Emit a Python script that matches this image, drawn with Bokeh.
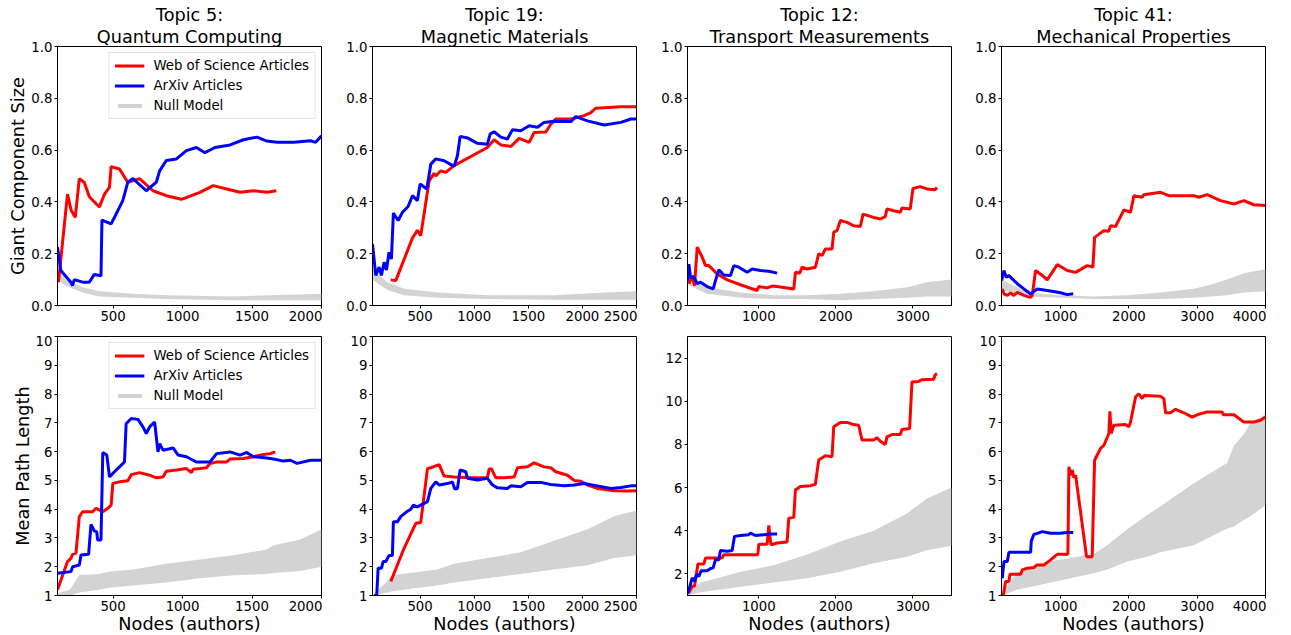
from bokeh.plotting import figure
from bokeh.layouts import column, row
from bokeh.models import Range1d, FixedTicker, PrintfTickFormatter, Legend, LegendItem, Title
from bokeh.embed import file_html
from bokeh.resources import INLINE

# ---------------- DATA ----------------
title_line1 = ["Topic 5:", "Topic 19:", "Topic 12:", "Topic 41:"]
title_line2 = ["Quantum Computing", "Magnetic Materials", "Transport Measurements", "Mechanical Properties"]
series_labels = ["Web of Science Articles", "ArXiv Articles", "Null Model"]
x_ranges = [(100, 2000), (60, 2500), (75, 3500), (135, 4000)]
x_ticks = [[500, 1000, 1500, 2000], [500, 1000, 1500, 2000, 2500],
           [1000, 2000, 3000], [1000, 2000, 3000, 4000]]
gc_ticks = [0.0, 0.2, 0.4, 0.6, 0.8, 1.0]
mpl_ranges = [(1, 10), (1, 10), (1, 13), (1, 10)]
mpl_ticks = [[1, 2, 3, 4, 5, 6, 7, 8, 9, 10], [1, 2, 3, 4, 5, 6, 7, 8, 9, 10],
             [2, 4, 6, 8, 10, 12], [1, 2, 3, 4, 5, 6, 7, 8, 9, 10]]

# Topic 5 - giant component
t5_gc_wos_x = [107, 172, 197, 228, 257, 293, 329, 401, 438, 474, 486, 546, 606, 691, 787, 883, 992, 1125, 1221, 1318, 1414, 1510, 1607, 1675]
t5_gc_wos_y = [0.09, 0.43, 0.37, 0.34, 0.49, 0.475, 0.42, 0.38, 0.43, 0.456, 0.536, 0.527, 0.476, 0.49, 0.443, 0.424, 0.41, 0.437, 0.463, 0.45, 0.437, 0.443, 0.437, 0.443]
t5_gc_arx_x = [100, 124, 196, 208, 221, 281, 329, 365, 413, 420, 486, 534, 570, 606, 643, 739, 811, 835, 883, 956, 1028, 1100, 1161, 1233, 1342, 1438, 1535, 1607, 1680, 1800, 1921, 1958, 2000]
t5_gc_arx_y = [0.225, 0.135, 0.09, 0.077, 0.10, 0.09, 0.09, 0.12, 0.115, 0.33, 0.315, 0.366, 0.405, 0.476, 0.49, 0.443, 0.476, 0.52, 0.56, 0.566, 0.598, 0.61, 0.59, 0.61, 0.62, 0.64, 0.65, 0.635, 0.63, 0.63, 0.636, 0.63, 0.655]
t5_gc_null_x = [100, 160, 281, 401, 643, 883, 1366, 2000]
t5_gc_null_hi = [0.14, 0.10, 0.07, 0.055, 0.045, 0.04, 0.035, 0.045]
t5_gc_null_lo = [0.10, 0.075, 0.05, 0.035, 0.03, 0.025, 0.02, 0.02]

# Topic 19 - giant component
t19_gc_wos_x = [229, 275, 429, 475, 506, 583, 629, 645, 691, 737, 814, 1122, 1184, 1246, 1338, 1415, 1508, 1554, 1662, 1708, 1754, 1893, 2016, 2078, 2124, 2355, 2500]
t19_gc_wos_y = [0.099, 0.096, 0.26, 0.29, 0.27, 0.48, 0.51, 0.50, 0.52, 0.514, 0.54, 0.61, 0.64, 0.62, 0.614, 0.645, 0.63, 0.668, 0.67, 0.70, 0.72, 0.72, 0.733, 0.745, 0.762, 0.767, 0.767]
t19_gc_arx_x = [60, 90, 121, 142, 167, 189, 213, 235, 253, 297, 337, 389, 429, 475, 500, 562, 599, 645, 722, 814, 845, 870, 938, 1030, 1122, 1147, 1184, 1246, 1307, 1354, 1431, 1508, 1585, 1646, 1739, 1893, 1939, 2047, 2201, 2355, 2448, 2500]
t19_gc_arx_y = [0.238, 0.116, 0.148, 0.116, 0.167, 0.137, 0.206, 0.18, 0.357, 0.328, 0.36, 0.382, 0.424, 0.405, 0.469, 0.45, 0.546, 0.566, 0.559, 0.537, 0.578, 0.653, 0.647, 0.626, 0.623, 0.662, 0.671, 0.65, 0.643, 0.679, 0.675, 0.694, 0.688, 0.707, 0.711, 0.71, 0.729, 0.713, 0.697, 0.707, 0.72, 0.72]
t19_gc_null_x = [60, 198, 352, 660, 1122, 1739, 2201, 2500]
t19_gc_null_hi = [0.14, 0.09, 0.065, 0.05, 0.04, 0.04, 0.05, 0.055]
t19_gc_null_lo = [0.10, 0.06, 0.04, 0.03, 0.025, 0.022, 0.022, 0.022]

# Topic 12 - giant component
t12_gc_wos_x = [93, 136, 166, 201, 266, 309, 352, 460, 590, 762, 978, 1000, 1108, 1173, 1281, 1454, 1475, 1531, 1562, 1626, 1734, 1778, 1821, 1864, 1950, 1972, 2015, 2058, 2145, 2231, 2318, 2352, 2490, 2577, 2641, 2663, 2750, 2836, 2857, 2965, 3000, 3095, 3181, 3289, 3311]
t12_gc_wos_y = [0.084, 0.116, 0.077, 0.225, 0.186, 0.154, 0.154, 0.122, 0.099, 0.08, 0.058, 0.073, 0.068, 0.075, 0.071, 0.064, 0.128, 0.125, 0.148, 0.141, 0.148, 0.2, 0.193, 0.218, 0.218, 0.283, 0.289, 0.328, 0.321, 0.308, 0.305, 0.353, 0.34, 0.334, 0.343, 0.373, 0.366, 0.36, 0.376, 0.373, 0.452, 0.459, 0.45, 0.447, 0.456]
t12_gc_arx_x = [76, 93, 114, 158, 201, 244, 330, 408, 438, 482, 546, 633, 676, 741, 849, 914, 1022, 1130, 1238]
t12_gc_arx_y = [0.096, 0.16, 0.109, 0.109, 0.084, 0.09, 0.073, 0.064, 0.096, 0.138, 0.118, 0.116, 0.154, 0.148, 0.128, 0.141, 0.135, 0.132, 0.125]
t12_gc_null_x = [75, 330, 762, 1194, 1626, 2058, 2490, 2922, 3181, 3500]
t12_gc_null_hi = [0.12, 0.07, 0.05, 0.04, 0.04, 0.045, 0.055, 0.07, 0.09, 0.10]
t12_gc_null_lo = [0.08, 0.045, 0.03, 0.025, 0.025, 0.02, 0.025, 0.03, 0.035, 0.035]

# Topic 41 - giant component
t41_gc_wos_x = [146, 171, 220, 268, 317, 366, 415, 463, 512, 561, 585, 634, 732, 805, 951, 1098, 1220, 1390, 1473, 1498, 1634, 1707, 1732, 1805, 1927, 2024, 2073, 2195, 2220, 2463, 2585, 2951, 3024, 3146, 3341, 3537, 3683, 3829, 4000]
t41_gc_wos_y = [0.064, 0.045, 0.039, 0.048, 0.039, 0.051, 0.045, 0.039, 0.035, 0.032, 0.039, 0.135, 0.116, 0.099, 0.158, 0.135, 0.128, 0.154, 0.148, 0.263, 0.289, 0.287, 0.308, 0.305, 0.369, 0.36, 0.424, 0.418, 0.428, 0.437, 0.424, 0.424, 0.418, 0.428, 0.405, 0.392, 0.405, 0.389, 0.386]
t41_gc_arx_x = [137, 171, 205, 244, 293, 366, 463, 561, 659, 805, 1000, 1098, 1185]
t41_gc_arx_y = [0.096, 0.135, 0.109, 0.116, 0.103, 0.084, 0.064, 0.045, 0.064, 0.058, 0.049, 0.042, 0.045]
t41_gc_null_x = [137, 512, 1000, 1488, 1976, 2463, 2951, 3195, 3439, 3683, 4000]
t41_gc_null_hi = [0.10, 0.05, 0.04, 0.035, 0.04, 0.05, 0.065, 0.08, 0.10, 0.125, 0.14]
t41_gc_null_lo = [0.06, 0.035, 0.03, 0.025, 0.025, 0.025, 0.03, 0.035, 0.04, 0.05, 0.055]

# Topic 5 - mean path length
t5_mpl_wos_x = [100, 172, 196, 209, 233, 257, 281, 353, 377, 426, 462, 486, 498, 546, 606, 631, 691, 763, 811, 859, 883, 956, 1028, 1064, 1076, 1125, 1173, 1197, 1245, 1318, 1342, 1438, 1510, 1583, 1631, 1667]
t5_mpl_wos_y = [1.2, 2.18, 2.29, 2.43, 2.47, 3.74, 3.91, 3.91, 4.03, 3.91, 4.03, 4.14, 4.89, 4.95, 4.99, 5.2, 5.27, 5.18, 5.09, 5.12, 5.32, 5.36, 5.41, 5.27, 5.39, 5.41, 5.44, 5.59, 5.64, 5.64, 5.74, 5.76, 5.82, 5.9, 5.93, 5.99]
t5_mpl_arx_x = [100, 196, 209, 257, 269, 324, 341, 365, 382, 389, 413, 426, 455, 474, 510, 546, 582, 594, 631, 679, 715, 739, 763, 799, 823, 835, 859, 908, 932, 968, 1028, 1100, 1197, 1245, 1342, 1414, 1462, 1510, 1607, 1655, 1727, 1776, 1824, 1921, 2000]
t5_mpl_arx_y = [1.77, 1.83, 2.0, 2.06, 2.41, 2.43, 3.47, 3.24, 3.22, 2.93, 2.93, 5.97, 5.88, 5.12, 5.3, 5.47, 5.64, 6.97, 7.15, 7.12, 6.86, 6.63, 6.86, 7.03, 5.99, 6.28, 6.05, 6.1, 6.13, 5.88, 5.82, 5.64, 5.64, 5.93, 5.99, 5.88, 5.97, 5.82, 5.78, 5.74, 5.67, 5.7, 5.59, 5.7, 5.7]
t5_mpl_null_x = [100, 190, 257, 320, 401, 474, 643, 883, 1125, 1366, 1607, 1655, 1848, 2000]
t5_mpl_null_hi = [1.08, 1.2, 1.72, 1.72, 1.75, 1.83, 1.9, 2.1, 2.25, 2.4, 2.6, 2.75, 2.95, 3.3]
t5_mpl_null_lo = [1.0, 1.0, 1.1, 1.15, 1.2, 1.27, 1.35, 1.45, 1.6, 1.7, 1.75, 1.78, 1.85, 2.0]

# Topic 19 - mean path length
t19_mpl_wos_x = [229, 352, 460, 506, 568, 599, 676, 722, 814, 968, 1122, 1138, 1159, 1200, 1277, 1369, 1400, 1492, 1554, 1646, 1708, 1754, 1862, 1924, 1985, 2047, 2139, 2293, 2417, 2500]
t19_mpl_wos_y = [1.49, 2.64, 3.51, 3.54, 5.41, 5.44, 5.55, 5.15, 5.12, 5.09, 5.09, 5.39, 5.41, 5.09, 5.09, 5.12, 5.44, 5.47, 5.61, 5.47, 5.44, 5.3, 5.18, 5.0, 4.97, 4.84, 4.72, 4.64, 4.63, 4.64]
t19_mpl_arx_x = [75, 99, 112, 143, 158, 183, 213, 244, 253, 290, 321, 383, 414, 438, 475, 537, 568, 599, 645, 676, 753, 799, 820, 845, 870, 922, 938, 1030, 1122, 1169, 1215, 1307, 1338, 1431, 1492, 1615, 1708, 1831, 1924, 2016, 2139, 2263, 2355, 2448, 2500]
t19_mpl_arx_y = [1.0, 1.0, 1.95, 1.95, 2.18, 2.18, 2.39, 2.39, 3.56, 3.56, 3.74, 3.93, 4.0, 4.14, 4.08, 4.2, 4.26, 4.72, 4.95, 4.84, 4.89, 4.95, 4.70, 4.72, 5.36, 5.30, 5.07, 5.01, 5.07, 4.84, 4.74, 4.72, 4.81, 4.78, 4.93, 4.93, 4.86, 4.81, 4.84, 4.89, 4.81, 4.72, 4.75, 4.81, 4.81]
t19_mpl_null_x = [60, 198, 244, 445, 660, 814, 1122, 1431, 1739, 2047, 2293, 2500]
t19_mpl_null_hi = [1.0, 1.5, 1.7, 1.8, 1.9, 2.1, 2.3, 2.5, 2.9, 3.3, 3.75, 3.95]
t19_mpl_null_lo = [1.0, 1.1, 1.15, 1.25, 1.35, 1.45, 1.6, 1.75, 1.9, 2.05, 2.3, 2.4]

# Topic 12 - mean path length
t12_mpl_wos_x = [93, 136, 166, 210, 287, 309, 525, 546, 762, 987, 1000, 1108, 1130, 1151, 1160, 1238, 1367, 1389, 1454, 1475, 1540, 1670, 1734, 1756, 1778, 1864, 1950, 1972, 2058, 2145, 2231, 2296, 2339, 2490, 2533, 2577, 2641, 2663, 2728, 2836, 2857, 2957, 2987, 3073, 3117, 3268, 3289, 3311]
t12_mpl_wos_y = [1.12, 1.43, 1.43, 2.46, 2.46, 2.74, 2.74, 2.89, 2.89, 2.89, 3.38, 3.38, 4.25, 3.51, 3.35, 3.43, 3.48, 4.58, 4.62, 5.89, 6.05, 6.09, 6.15, 6.74, 7.28, 7.48, 7.43, 8.82, 9.02, 9.02, 8.92, 8.89, 8.2, 8.2, 8.31, 8.15, 8.0, 8.35, 8.46, 8.46, 8.69, 8.74, 10.89, 10.92, 11.0, 11.02, 11.23, 11.28]
t12_mpl_arx_x = [76, 106, 136, 166, 192, 222, 253, 330, 374, 408, 438, 482, 503, 590, 654, 685, 762, 870, 892, 957, 1065, 1151, 1238]
t12_mpl_arx_y = [1.08, 1.43, 1.82, 1.66, 1.97, 1.89, 2.15, 2.15, 2.25, 2.28, 2.66, 2.66, 3.08, 3.05, 3.08, 3.74, 3.78, 3.82, 3.89, 3.78, 3.82, 3.85, 3.85]
t12_mpl_null_x = [75, 244, 460, 762, 1194, 1626, 2058, 2490, 2922, 3181, 3500]
t12_mpl_null_hi = [1.1, 1.6, 1.8, 2.1, 2.4, 2.9, 3.5, 4.0, 4.8, 5.5, 6.0]
t12_mpl_null_lo = [1.0, 1.15, 1.25, 1.4, 1.6, 1.8, 2.1, 2.5, 2.8, 3.1, 3.3]

# Topic 41 - mean path length
t41_mpl_wos_x = [161, 195, 244, 259, 415, 439, 512, 610, 649, 756, 854, 951, 1107, 1122, 1146, 1171, 1195, 1220, 1380, 1463, 1498, 1585, 1634, 1707, 1722, 1741, 1780, 1951, 2000, 2024, 2098, 2146, 2195, 2220, 2463, 2512, 2537, 2610, 2683, 2805, 2927, 3000, 3146, 3366, 3380, 3537, 3683, 3829, 3927, 4000]
t41_mpl_wos_y = [1.0, 1.49, 1.49, 1.74, 1.74, 1.89, 1.95, 1.97, 2.06, 2.06, 2.24, 2.43, 2.43, 5.47, 5.18, 5.36, 5.09, 5.18, 2.35, 2.35, 5.7, 6.11, 6.22, 6.63, 7.4, 6.63, 6.92, 6.94, 6.86, 7.03, 7.9, 8.01, 7.84, 7.95, 7.92, 7.84, 7.35, 7.35, 7.47, 7.35, 7.2, 7.28, 7.38, 7.38, 7.28, 7.28, 7.03, 7.03, 7.09, 7.2]
t41_mpl_arx_x = [146, 171, 220, 244, 561, 571, 610, 659, 732, 854, 1000, 1098, 1185]
t41_mpl_arx_y = [1.6, 2.18, 2.18, 2.5, 2.5, 2.89, 3.13, 3.16, 3.22, 3.16, 3.16, 3.19, 3.19]
t41_mpl_null_x = [137, 366, 756, 1244, 1488, 1683, 1976, 2268, 2463, 2951, 3439, 3537, 3683, 3780, 4000]
t41_mpl_null_hi = [1.1, 1.8, 2.15, 2.35, 2.45, 2.75, 3.3, 3.8, 4.1, 4.9, 5.6, 6.2, 6.6, 7.0, 7.3]
t41_mpl_null_lo = [1.0, 1.2, 1.4, 1.65, 1.77, 1.9, 2.18, 2.35, 2.5, 2.75, 3.33, 3.4, 3.62, 3.75, 4.14]

gc_data = [
    (t5_gc_wos_x, t5_gc_wos_y, t5_gc_arx_x, t5_gc_arx_y, t5_gc_null_x, t5_gc_null_lo, t5_gc_null_hi),
    (t19_gc_wos_x, t19_gc_wos_y, t19_gc_arx_x, t19_gc_arx_y, t19_gc_null_x, t19_gc_null_lo, t19_gc_null_hi),
    (t12_gc_wos_x, t12_gc_wos_y, t12_gc_arx_x, t12_gc_arx_y, t12_gc_null_x, t12_gc_null_lo, t12_gc_null_hi),
    (t41_gc_wos_x, t41_gc_wos_y, t41_gc_arx_x, t41_gc_arx_y, t41_gc_null_x, t41_gc_null_lo, t41_gc_null_hi),
]
mpl_data = [
    (t5_mpl_wos_x, t5_mpl_wos_y, t5_mpl_arx_x, t5_mpl_arx_y, t5_mpl_null_x, t5_mpl_null_lo, t5_mpl_null_hi),
    (t19_mpl_wos_x, t19_mpl_wos_y, t19_mpl_arx_x, t19_mpl_arx_y, t19_mpl_null_x, t19_mpl_null_lo, t19_mpl_null_hi),
    (t12_mpl_wos_x, t12_mpl_wos_y, t12_mpl_arx_x, t12_mpl_arx_y, t12_mpl_null_x, t12_mpl_null_lo, t12_mpl_null_hi),
    (t41_mpl_wos_x, t41_mpl_wos_y, t41_mpl_arx_x, t41_mpl_arx_y, t41_mpl_null_x, t41_mpl_null_lo, t41_mpl_null_hi),
]

# ---------------- STYLE ----------------
FONT = "DejaVu Sans"
FW, FH = 264, 259
LEFT_BORDERS = [57, 50, 50, 49]
RED, BLUE, GRAY = "#ff0000", "#0000ff", "#d3d3d3"
BIG, SMALL = "17.7px", "13.3px"


def style_axis(ax):
    ax.axis_line_color = "black"
    ax.major_tick_line_color = "black"
    ax.major_tick_out = 3
    ax.major_tick_in = 0
    ax.minor_tick_line_color = None
    ax.major_label_text_font = FONT
    ax.major_label_text_font_size = SMALL
    ax.major_label_text_color = "black"
    ax.major_label_standoff = 2
    ax.axis_label_text_font = FONT
    ax.axis_label_text_font_size = BIG
    ax.axis_label_text_font_style = "normal"
    ax.axis_label_text_color = "black"
    ax.axis_label_standoff = 0


def add_title(p, text):
    t = Title(text=text, align="center", text_font=FONT, text_font_size=BIG,
              text_font_style="normal", text_color="black", standoff=0, offset=0)
    p.add_layout(t, "above")


def make_panel(i, top, data, yr, yticks, ylabel, legend):
    wx, wy, ax_, ay, nx, nlo, nhi = data
    kw = dict(frame_width=FW, frame_height=FH, output_backend="svg", toolbar_location=None,
              x_range=Range1d(*x_ranges[i]), y_range=Range1d(*yr),
              min_border_left=LEFT_BORDERS[i], min_border_right=1, title=None)
    if top:
        p = figure(min_border_top=46, min_border_bottom=30, **kw)
        add_title(p, title_line2[i])
        add_title(p, title_line1[i])
    else:
        p = figure(min_border_top=1, min_border_bottom=0, **kw)
    p.grid.visible = False
    p.outline_line_color = "black"
    p.outline_line_alpha = 1.0
    p.outline_line_width = 1
    p.background_fill_color = "white"
    p.border_fill_color = "white"
    style_axis(p.xaxis[0])
    style_axis(p.yaxis[0])
    p.xaxis.ticker = FixedTicker(ticks=x_ticks[i])
    p.yaxis.ticker = FixedTicker(ticks=yticks)
    if top:
        p.yaxis.formatter = PrintfTickFormatter(format="%.1f")
    else:
        p.xaxis.axis_label = "Nodes (authors)"
    if ylabel:
        p.yaxis.axis_label = ylabel

    r_n = p.varea(x=nx, y1=nlo, y2=nhi, fill_color=GRAY, fill_alpha=1.0)
    r_w = p.line(wx, wy, line_color=RED, line_width=3)
    r_a = p.line(ax_, ay, line_color=BLUE, line_width=3)
    if legend:
        lg = Legend(items=[LegendItem(label=series_labels[0], renderers=[r_w]),
                           LegendItem(label=series_labels[1], renderers=[r_a]),
                           LegendItem(label=series_labels[2], renderers=[r_n])],
                    location="top_right")
        lg.label_text_font = FONT
        lg.label_text_font_size = SMALL
        lg.label_text_color = "black"
        lg.glyph_width = 30
        lg.glyph_height = 5
        lg.label_height = 15
        lg.spacing = 5
        lg.padding = 5
        lg.margin = 6
        lg.label_standoff = 9
        lg.border_line_color = "#cccccc"
        lg.border_line_width = 1
        lg.background_fill_alpha = 0.8
        p.add_layout(lg)
    return p


top_row = []
bot_row = []
for i in range(4):
    top_row.append(make_panel(i, True, gc_data[i], (0, 1), gc_ticks,
                              "Giant Component Size" if i == 0 else None, i == 0))
    bot_row.append(make_panel(i, False, mpl_data[i], mpl_ranges[i], mpl_ticks[i],
                              "Mean Path Length" if i == 0 else None, i == 0))

layout = column(row(*top_row), row(*bot_row))
open("out.html", "w").write(file_html(layout, INLINE))
